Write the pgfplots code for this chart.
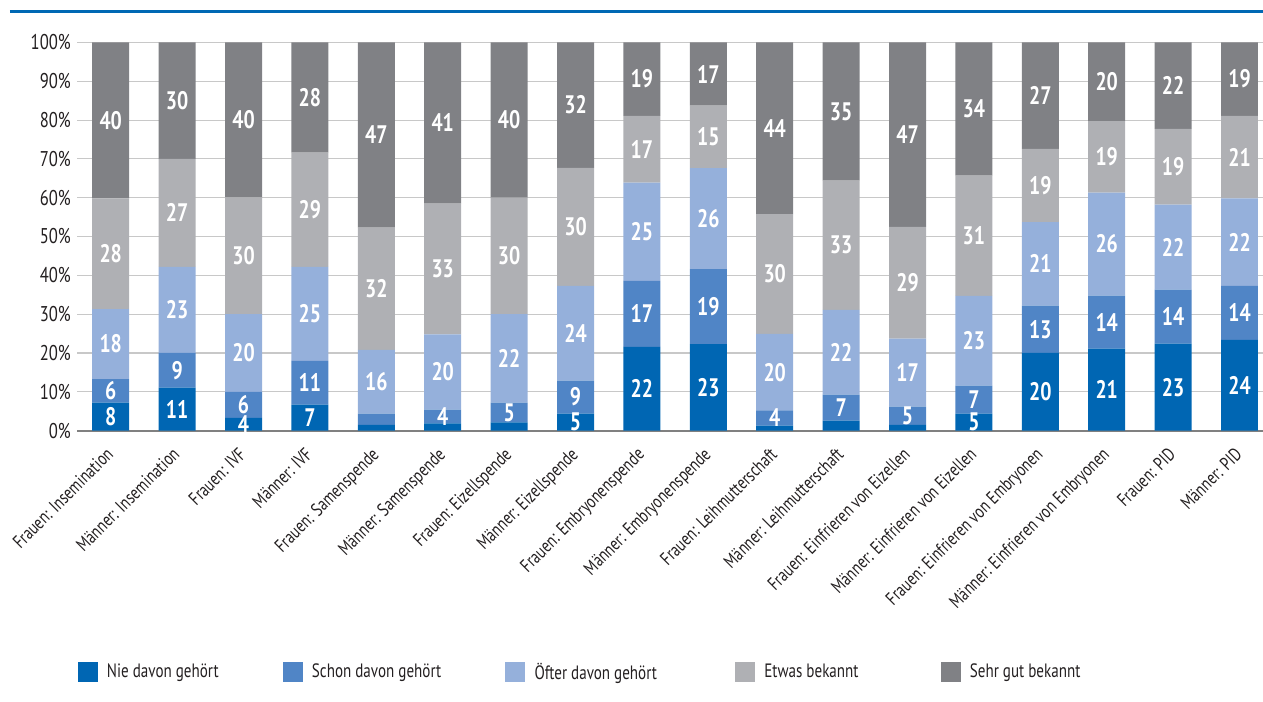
\documentclass[border=0pt]{standalone}
\usepackage{fontspec}
\setmainfont{PT Sans}[FakeStretch=0.78]
\usepackage{pgfplots}
\usepackage{pgfplotstable}
\pgfplotsset{compat=1.18}

\definecolor{nie}{RGB}{0,102,179}
\definecolor{schon}{RGB}{80,133,198}
\definecolor{oefter}{RGB}{149,176,219}
\definecolor{etwas}{RGB}{175,176,180}
\definecolor{sehr}{RGB}{128,129,133}
\definecolor{topline}{RGB}{0,104,180}
\definecolor{txt}{RGB}{35,31,32}

% x = category, h = segment height in %, lab = printed label
\pgfplotstableread{
x h lab
0 7.2 8
1 11.1 11
2 3.3 4
3 6.7 7
4 1.5 {}
5 1.9 {}
6 2.1 {}
7 4.4 5
8 21.6 22
9 22.3 23
10 1.3 {}
11 2.6 {}
12 1.5 {}
13 4.4 5
14 20.0 20
15 21.1 21
16 22.4 23
17 23.4 24
}\nie
\pgfplotstableread{
x h lab
0 6.1 6
1 8.9 9
2 6.7 6
3 11.3 11
4 2.9 {}
5 3.5 4
6 5.1 5
7 8.5 9
8 17.0 17
9 19.3 19
10 3.9 4
11 6.7 7
12 4.7 5
13 7.2 7
14 12.2 13
15 13.7 14
16 13.9 14
17 13.9 14
}\schon
\pgfplotstableread{
x h lab
0 18.0 18
1 22.2 23
2 20.0 20
3 24.2 25
4 16.4 16
5 19.4 20
6 22.8 22
7 24.4 24
8 25.3 25
9 26.0 26
10 19.7 20
11 21.8 22
12 17.5 17
13 23.1 23
14 21.5 21
15 26.5 26
16 21.9 22
17 22.5 22
}\oefter
\pgfplotstableread{
x h lab
0 28.5 28
1 27.8 27
2 30.1 30
3 29.4 29
4 31.5 32
5 33.7 33
6 30.0 30
7 30.4 30
8 17.2 17
9 16.1 15
10 30.9 30
11 33.3 33
12 28.8 29
13 31.0 31
14 18.9 19
15 18.4 19
16 19.5 19
17 21.3 21
}\etwas
\pgfplotstableread{
x h lab
0 40.2 40
1 30.0 30
2 39.9 40
3 28.4 28
4 47.7 47
5 41.5 41
6 40.0 40
7 32.3 32
8 18.9 19
9 16.3 17
10 44.2 44
11 35.6 35
12 47.5 47
13 34.3 34
14 27.4 27
15 20.3 20
16 22.3 22
17 18.9 19
}\sehr

\begin{document}
\begin{tikzpicture}
\begin{axis}[
  scale only axis,
  width=889.3pt, height=291.2pt,
  xmin=-0.503, xmax=17.354,
  ymin=0, ymax=100,
  ybar stacked, bar width=0.557,
  axis line style={draw=none},
  major tick length=0,
  ytick={0,10,...,100},
  yticklabel={\pgfmathprintnumber{\tick}\%},
  /pgf/number format/assume math mode=true,
  yticklabel style={font=\fontsize{16}{18}\selectfont, text=txt, inner sep=0pt, xshift=-4.7pt},
  ymajorgrids, grid style={draw={rgb,255:red,200;green,200;blue,200}, line width=0.8pt},
  extra y ticks={0}, extra y tick labels={},
  extra y tick style={grid style={draw={rgb,255:red,128;green,128;blue,128}, line width=1.4pt}},
  xtick={0,...,17},
  xticklabels={Frauen: Insemination, Männer: Insemination, Frauen: IVF, Männer: IVF,
    Frauen: Samenspende, Männer: Samenspende, Frauen: Eizellspende, Männer: Eizellspende,
    Frauen: Embryonenspende, Männer: Embryonenspende, Frauen: Leihmutterschaft,
    Männer: Leihmutterschaft, Frauen: Einfrieren von Eizellen, Männer: Einfrieren von Eizellen,
    Frauen: Einfrieren von Embryonen, Männer: Einfrieren von Embryonen, Frauen: PID, Männer: PID},
  xticklabel style={xshift=-4.4pt, yshift=-11.6pt, rotate=45, anchor=north east,
    font=\fontsize{14}{16}\selectfont, text=txt, inner sep=0pt},
  point meta=explicit symbolic,
  nodes near coords,
  every node near coord/.append style={anchor=center, text=white,
    font=\bfseries\fontsize{19}{20}\selectfont, inner sep=0pt},
  legend columns=5,
  legend style={at={(0,-0.5907)}, anchor=north west, draw=none, fill=none,
    inner sep=0pt, font=\fontsize{14.5}{16}\selectfont, text=txt,
    /tikz/every odd column/.append style={column sep=5pt},
    /tikz/every even column/.append style={column sep=46pt}},
  legend image code/.code={\fill[#1] (0pt,-7.6pt) rectangle (15pt,7.6pt);},
]
\addplot[fill=nie, draw=none] table[x=x, y=h, meta=lab] {\nie};
\addplot[fill=schon, draw=none] table[x=x, y=h, meta=lab] {\schon};
\addplot[fill=oefter, draw=none] table[x=x, y=h, meta=lab] {\oefter};
\addplot[fill=etwas, draw=none] table[x=x, y=h, meta=lab] {\etwas};
\addplot[fill=sehr, draw=none] table[x=x, y=h, meta=lab] {\sehr};
\legend{Nie davon gehört, Schon davon gehört, Öfter davon gehört\hspace*{10.5pt}\mbox{},
  Etwas bekannt\hspace*{13.5pt}\mbox{}, Sehr gut bekannt}
\end{axis}
\pgfresetboundingbox
\useasboundingbox (-58pt,-203.5pt) rectangle (889.3pt,323pt);
\draw[topline, line width=2.3pt] (-50.5pt,314.4pt) -- (889.3pt,314.4pt);
\end{tikzpicture}
\end{document}
